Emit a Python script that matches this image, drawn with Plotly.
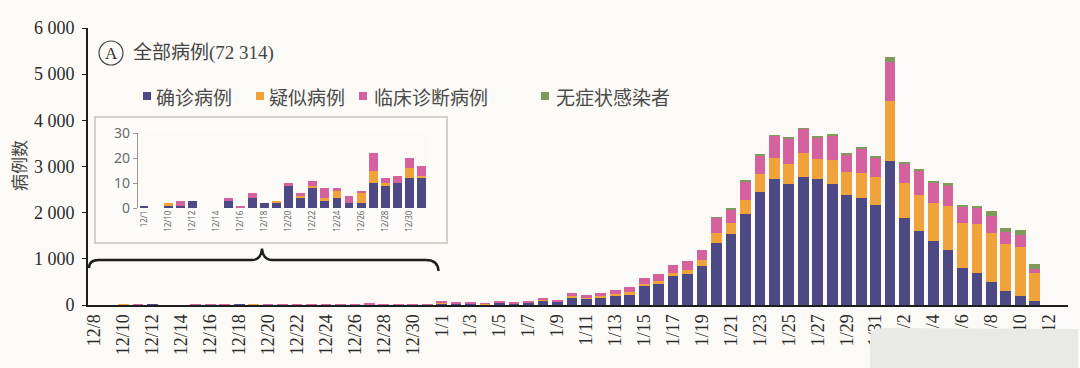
import plotly.graph_objects as go

# ---------------- data ----------------
# main axis categories 12/8 .. 2/12
dec_days = [f"12/{d}" for d in range(8, 32)]
jan_days = [f"1/{d}" for d in range(1, 32)]
feb_days = [f"2/{d}" for d in range(1, 13)]
main_categories = dec_days + jan_days + feb_days
main_tick_labels = main_categories[::2]

# December (inset) onset dates and counts
inset_dates = ["12/1", "12/9", "12/10", "12/11", "12/12", "12/13", "12/14", "12/15",
               "12/16", "12/17", "12/18", "12/19", "12/20", "12/21", "12/22", "12/23",
               "12/24", "12/25", "12/26", "12/27", "12/28", "12/29", "12/30", "12/31"]
inset_confirmed = [1, 0, 1, 1, 3, 0, 0, 3, 0, 4, 2, 2, 9, 4, 8, 3, 4, 2, 2, 10, 9, 10, 12, 12]
inset_suspected = [0, 0, 1, 0, 0, 0, 0, 0, 0, 0, 0, 1, 0, 1, 1, 1, 3, 0, 4, 5, 1, 0, 4, 1]
inset_clinical = [0, 0, 0, 2, 0, 0, 0, 1, 1, 2, 0, 0, 1, 1, 2, 4, 1, 3, 1, 7, 2, 3, 4, 4]
inset_asymptomatic = [0] * 24
inset_tick_labels = inset_dates[0::2]

# January 1 .. February 11
jf_dates = jan_days + feb_days[:11]
confirmed = [40, 35, 35, 20, 45, 35, 45, 90, 70, 166, 140, 170, 216, 238, 404, 455, 620, 671,
             851, 1335, 1537, 1970, 2439, 2727, 2619, 2778, 2727, 2619, 2381, 2309, 2172,
             3124, 1876, 1609, 1392, 1198, 794, 693, 491, 310, 188, 94]
suspected = [5, 5, 5, 3, 5, 5, 5, 10, 10, 20, 20, 20, 25, 36, 50, 58, 72, 94,
             123, 224, 231, 310, 397, 455, 433, 505, 433, 519, 491, 541, 592,
             1299, 758, 779, 815, 952, 974, 1061, 1068, 1010, 1061, 599]
clinical = [27, 18, 18, 13, 29, 18, 29, 44, 35, 67, 56, 70, 84, 108, 130, 159, 173, 195,
            224, 339, 310, 397, 411, 483, 563, 534, 469, 541, 397, 541, 433,
            851, 433, 519, 447, 433, 368, 361, 361, 267, 267, 87]
asymptomatic = [0, 0, 0, 0, 0, 0, 0, 0, 0, 0, 0, 0, 0, 0, 0, 0, 0, 0,
                0, 5, 5, 10, 10, 15, 15, 15, 15, 15, 20, 25, 25,
                101, 20, 22, 22, 50, 36, 29, 108, 72, 115, 108]

y_ticks = [0, 1000, 2000, 3000, 4000, 5000, 6000]
y_tick_text = ["0", "1 000", "2 000", "3 000", "4 000", "5 000", "6 000"]
inset_y_ticks = [0, 10, 20, 30]

series_names = ["确诊病例", "疑似病例", "临床诊断病例", "无症状感染者"]
colors = ["#4c4985", "#f0a23b", "#d5629f", "#7f9a5b"]

total_label = "全部病例(72 314)"

# ---------------- figure ----------------
BG = "#fbfaf6"
W, H = 1080, 368
L, R, T, B = 88, 12, 28, 63
pw, ph = W - L - R, H - T - B


def px(x):
    return (x - L) / pw


def py(y):
    return (H - B - y) / ph


fig = go.Figure()

# main traces (December part taken from inset data where inside main range)
dec_main_idx = [i for i, d in enumerate(inset_dates) if d in main_categories]
main_x = [inset_dates[i] for i in dec_main_idx] + jf_dates
inset_series = [inset_confirmed, inset_suspected, inset_clinical, inset_asymptomatic]
main_series = [confirmed, suspected, clinical, asymptomatic]

for name, col, ins, ms in zip(series_names, colors, inset_series, main_series):
    yv = [ins[i] for i in dec_main_idx] + ms
    fig.add_trace(go.Bar(x=main_x, y=yv, name=name, marker=dict(color=col, line=dict(width=0)),
                         xaxis="x", yaxis="y", showlegend=False))

for name, col, ins in zip(series_names, colors, inset_series):
    fig.add_trace(go.Bar(x=inset_dates, y=ins, name=name, marker=dict(color=col, line=dict(width=0)),
                         xaxis="x2", yaxis="y2", showlegend=False))

serif = "Liberation Serif, Times New Roman, serif"
cjk = "Liberation Serif, Noto Sans CJK SC, sans-serif"

fig.update_layout(
    width=W, height=H,
    margin=dict(l=L, r=R, t=T, b=B, pad=0),
    paper_bgcolor=BG, plot_bgcolor=BG,
    barmode="stack", bargap=0.26,
    xaxis=dict(type="category", categoryorder="array", categoryarray=main_categories,
               range=[-0.45, 67.3], tickmode="array", tickvals=main_tick_labels,
               ticktext=main_tick_labels, tickangle=-90, showline=True, linecolor="#1e1e1e",
               linewidth=2, ticks="", showgrid=False, zeroline=False,
               tickfont=dict(family=serif, size=18, color="#2a2a2a"), domain=[0, 1]),
    yaxis=dict(range=[0, 6000], tickmode="array", tickvals=y_ticks, ticktext=y_tick_text,
               showline=True, linecolor="#1e1e1e", linewidth=1.6, ticks="outside", ticklen=4,
               tickcolor="#1e1e1e", showgrid=False, zeroline=False,
               tickfont=dict(family=serif, size=18, color="#2a2a2a"), ticklabelstandoff=4),
    xaxis2=dict(type="category", categoryorder="array", categoryarray=inset_dates,
                range=[-0.5, 23.6], tickmode="array", tickvals=inset_tick_labels,
                ticktext=inset_tick_labels, tickangle=-90, showline=False, ticks="",
                showgrid=False, zeroline=False, anchor="y2",
                domain=[px(138), px(428.6)],
                tickfont=dict(family="Noto Sans, sans-serif", size=8, color="#666")),
    yaxis2=dict(range=[0, 30], tickmode="array", tickvals=inset_y_ticks, showline=True,
                linecolor="#9a9690", linewidth=1.2, ticks="outside", ticklen=4, tickcolor="#9a9690",
                showgrid=False, zeroline=False, anchor="x2",
                domain=[py(208), py(133)],
                tickfont=dict(family="Noto Sans, sans-serif", size=14, color="#6a6a6a")),
)

shapes = []
# inset frame
shapes.append(dict(type="rect", xref="paper", yref="paper", x0=px(95), x1=px(447), y0=py(243), y1=py(117),
                   line=dict(color="#c6c3bd", width=1.5), fillcolor="#fdfcfa", layer="below"))
# brace under the inset
p = lambda x, y: f"{px(x):.5f},{py(y):.5f}"
brace = (f"M{p(89, 268)} Q{p(89, 260)} {p(99, 260)} L{p(252, 260)} Q{p(261, 260)} {p(262, 248.5)} "
         f"Q{p(263, 260)} {p(272, 260)} L{p(426, 260)} Q{p(438, 260)} {p(438.5, 271)}")
shapes.append(dict(type="path", xref="paper", yref="paper", path=brace,
                   line=dict(color="#1e1e1e", width=2.4)))
# circled A
shapes.append(dict(type="circle", xref="paper", yref="paper", x0=px(99), x1=px(123), y0=py(65), y1=py(41),
                   line=dict(color="#444", width=1.2)))
# legend swatches
swatch_x = [143, 256, 359, 541]
for sx, col in zip(swatch_x, colors):
    shapes.append(dict(type="rect", xref="paper", yref="paper", x0=px(sx), x1=px(sx + 8),
                       y0=py(100), y1=py(92), fillcolor=col, line=dict(width=0)))
# overlay blur patch at bottom right of the reference photo
shapes.append(dict(type="path", xref="paper", yref="paper",
                   path=(f"M{p(870, 368)} L{p(870, 336)} Q{p(872, 328)} {p(884, 328)} "
                         f"L{p(1078, 329)} L{p(1078, 368)} Z"),
                   fillcolor="#e9e9e8", line=dict(width=0), layer="above"))
fig.update_layout(shapes=shapes)

ann = []
ann.append(dict(text="A", x=px(111), y=py(53.5), xref="paper", yref="paper", showarrow=False,
                font=dict(family=serif, size=17, color="#333"), xanchor="center", yanchor="middle"))
ann.append(dict(text=total_label, x=px(131), y=py(53), xref="paper", yref="paper", showarrow=False,
                font=dict(family=cjk, size=19, color="#444"), xanchor="left", yanchor="middle"))
text_x = [154, 267, 372, 554]
for tx, name in zip(text_x, series_names):
    ann.append(dict(text=name, x=px(tx), y=py(96), xref="paper", yref="paper", showarrow=False,
                    font=dict(family="Noto Sans CJK SC", size=19, color="#4a4a4a"),
                    xanchor="left", yanchor="middle"))
ann.append(dict(text="病例数", x=px(18), y=py(166), xref="paper", yref="paper", showarrow=False,
                textangle=-90, font=dict(family="Noto Sans CJK SC", size=17, color="#444"),
                xanchor="center", yanchor="middle"))
fig.update_layout(annotations=ann)

fig.write_html("out.html")
